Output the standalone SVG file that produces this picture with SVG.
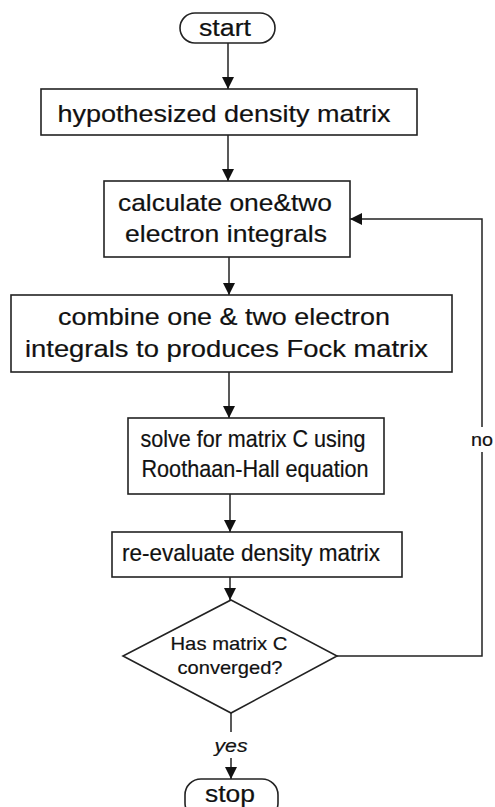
<svg xmlns="http://www.w3.org/2000/svg" width="495" height="807" viewBox="0 0 495 807">
<style>
.box{fill:#fff;stroke:#222;stroke-width:1.6}
.t{font-family:"Liberation Sans",Arial,sans-serif;fill:#111;stroke:#111;stroke-width:0.2;text-anchor:middle}
.c{fill:none;stroke:#222;stroke-width:1.5}
</style>
<defs>
<marker id="ah" markerWidth="12" markerHeight="12" viewBox="0 0 12 12" refX="12" refY="6" orient="auto" markerUnits="userSpaceOnUse">
<path d="M0,0 L12,6 L0,12 Z" fill="#111"/>
</marker>
</defs>
<rect width="495" height="807" fill="#fff"/>
<g id="connectors">
<line class="c" x1="228" y1="43" x2="228" y2="89" marker-end="url(#ah)"/>
<line class="c" x1="228" y1="135" x2="228" y2="181" marker-end="url(#ah)"/>
<line class="c" x1="229" y1="257" x2="229" y2="295" marker-end="url(#ah)"/>
<line class="c" x1="229" y1="372" x2="229" y2="418" marker-end="url(#ah)"/>
<line class="c" x1="230" y1="494" x2="230" y2="532" marker-end="url(#ah)"/>
<line class="c" x1="230" y1="577" x2="230" y2="600" marker-end="url(#ah)"/>
<line class="c" x1="231" y1="713" x2="231" y2="732"/>
<line class="c" x1="231" y1="758" x2="231" y2="779" marker-end="url(#ah)"/>
<polyline class="c" points="337,656 482,656 482,452"/>
<polyline class="c" points="482,427 482,219 350,219" marker-end="url(#ah)"/>
<text class="t" x="482" y="446" font-size="19" textLength="22" lengthAdjust="spacingAndGlyphs">no</text>
<text class="t" x="231" y="752" font-size="19" font-style="italic" textLength="33" lengthAdjust="spacingAndGlyphs">yes</text>
</g>
<g id="start">
<rect class="box" x="180" y="13" width="95" height="30" rx="15"/>
<text class="t" x="225" y="36" font-size="23" textLength="52" lengthAdjust="spacingAndGlyphs">start</text>
</g>
<g id="hypothesized">
<rect class="box" x="41" y="89" width="376" height="46"/>
<text class="t" x="224" y="122" font-size="24" textLength="333" lengthAdjust="spacingAndGlyphs">hypothesized density matrix</text>
</g>
<g id="calculate">
<rect class="box" x="104" y="181" width="246" height="76"/>
<text class="t" x="225" y="211" font-size="24" textLength="214" lengthAdjust="spacingAndGlyphs">calculate one&amp;two</text>
<text class="t" x="226" y="242" font-size="24" textLength="202" lengthAdjust="spacingAndGlyphs">electron integrals</text>
</g>
<g id="combine">
<rect class="box" x="11" y="295" width="441" height="77"/>
<text class="t" x="224" y="325" font-size="24" textLength="332" lengthAdjust="spacingAndGlyphs">combine one &amp; two electron</text>
<text class="t" x="226.5" y="357" font-size="24" textLength="403" lengthAdjust="spacingAndGlyphs">integrals to produces Fock matrix</text>
</g>
<g id="solve">
<rect class="box" x="128" y="418" width="256" height="76"/>
<text class="t" x="253" y="447" font-size="24" textLength="225" lengthAdjust="spacingAndGlyphs">solve for matrix C using</text>
<text class="t" x="255" y="477" font-size="24" textLength="227" lengthAdjust="spacingAndGlyphs">Roothaan-Hall equation</text>
</g>
<g id="reevaluate">
<rect class="box" x="112" y="532" width="290" height="45"/>
<text class="t" x="251" y="561" font-size="24" textLength="258" lengthAdjust="spacingAndGlyphs">re-evaluate density matrix</text>
</g>
<g id="decision">
<polygon class="box" points="231,600 337,656 231,713 123,656"/>
<text class="t" x="229" y="650" font-size="19" textLength="117" lengthAdjust="spacingAndGlyphs">Has matrix C</text>
<text class="t" x="230" y="674" font-size="19" textLength="105" lengthAdjust="spacingAndGlyphs">converged?</text>
</g>
<g id="stop">
<rect class="box" x="185" y="779" width="93" height="40" rx="16"/>
<text class="t" x="230" y="802" font-size="23" textLength="50" lengthAdjust="spacingAndGlyphs">stop</text>
</g>
</svg>
